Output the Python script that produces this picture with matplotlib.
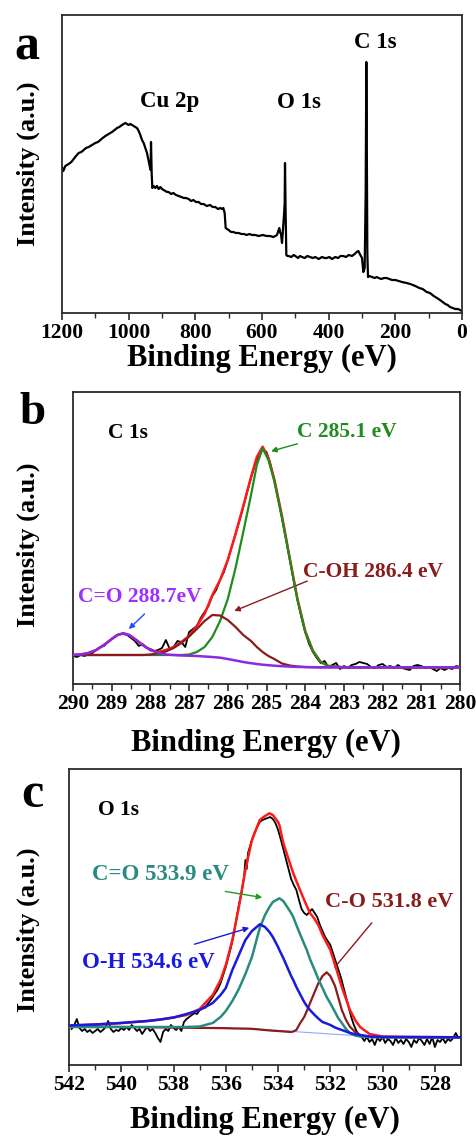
import matplotlib
matplotlib.use("Agg")
import matplotlib.pyplot as plt

plt.rcParams['font.family'] = ['Liberation Serif', 'DejaVu Serif']
plt.rcParams['font.weight'] = 'bold'

# ---------------- Panel a: survey ----------------
survey_be = [1200, 1196, 1190, 1180, 1172, 1165, 1158, 1150, 1142, 1135, 1128, 1120, 1110, 1100, 1092,
             1085, 1078, 1070, 1060, 1050, 1042, 1035, 1028, 1020, 1015, 1010, 1005, 1000, 995, 990,
             985, 980, 975, 970, 965, 960, 955, 950, 945, 940, 937, 934, 933, 931, 929, 925,
             920, 915, 910, 905, 900, 895, 890, 885, 880, 873, 866, 858, 850, 842, 835, 828,
             820, 813, 806, 798, 790, 783, 775, 766, 756, 748, 740, 732, 725, 720, 716, 712,
             709, 705, 700, 693, 686, 678, 670, 662, 654, 646, 638, 630, 620, 610, 598, 586,
             576, 566, 560, 555, 551, 548, 545, 543, 540, 537, 534, 532, 531, 530, 529, 527,
             524, 520, 512, 505, 500, 492, 486, 480, 472, 464, 456, 448, 440, 430, 420, 412,
             406, 398, 390, 380, 372, 364, 356, 348, 340, 330, 322, 316, 311, 305, 300, 296,
             292, 289, 287, 286, 285, 284, 282, 278, 270, 262, 256, 250, 242, 234, 226, 218,
             210, 200, 190, 180, 166, 155, 140, 128, 118, 106, 96, 85, 75, 66, 58, 50,
             43, 36, 28, 20, 12, 6, 0]
survey_int = [146, 142, 147, 149, 151, 154, 157, 160, 161, 163, 165, 166, 168, 170, 171,
              173, 175, 177, 179, 181, 183, 185, 186, 188, 189, 190, 189, 188, 189, 188,
              187, 186, 185, 182, 178, 173, 170, 165, 160, 152, 147, 143, 171, 140, 125, 127,
              125, 127, 124, 126, 124, 123, 122, 121, 121, 119, 120, 118, 117, 116, 115, 115,
              114, 112, 113, 111, 111, 109, 109, 107, 108, 106, 106, 104, 105, 104, 105, 100,
              85, 84, 83, 81, 81, 80, 80, 79, 79, 78, 79, 78, 78, 77, 78, 77,
              77, 76, 77, 78, 82, 85, 80, 79, 70, 84, 98, 110, 150, 120, 98, 58,
              57, 57, 56, 58, 57, 55, 57, 56, 55, 57, 56, 55, 56, 54, 56, 55,
              55, 56, 54, 56, 55, 57, 57, 56, 58, 57, 59, 61, 62, 58, 55, 41,
              45, 120, 251, 200, 130, 60, 36, 37, 36, 35, 36, 35, 34, 35, 35, 34,
              33, 33, 32, 31, 30, 29, 27, 25, 24, 21, 20, 17, 15, 13, 11, 9,
              8, 6, 5, 4, 4, 3, 2]
survey_ticks = [1200, 1000, 800, 600, 400, 200, 0]
survey_peaks = ["Cu 2p", "O 1s", "C 1s"]
survey_peak_pos = [(876, 211), (490, 211), (261, 270)]

# ---------------- Panel b: C 1s ----------------
c1s_be = [290.0, 289.9, 289.8, 289.7, 289.6, 289.5, 289.4, 289.3, 289.2, 289.1, 289.0, 288.9,
          288.8, 288.7, 288.6, 288.5, 288.4, 288.3, 288.2, 288.1, 288.0, 287.9, 287.8, 287.7,
          287.6, 287.5, 287.4, 287.3, 287.2, 287.1, 287.0, 286.9, 286.8, 286.7, 286.6, 286.5,
          286.4, 286.3, 286.2, 286.1, 286.0, 285.9, 285.8, 285.7, 285.6, 285.5, 285.4, 285.3,
          285.2, 285.1, 285.0, 284.9, 284.8, 284.7, 284.6, 284.5, 284.4, 284.3, 284.2, 284.1,
          284.0, 283.9, 283.8, 283.7, 283.6, 283.5, 283.4, 283.3, 283.2, 283.1, 283.0, 282.9,
          282.8, 282.7, 282.6, 282.5, 282.4, 282.3, 282.2, 282.1, 282.0, 281.9, 281.8, 281.7,
          281.6, 281.5, 281.4, 281.3, 281.2, 281.1, 281.0, 280.9, 280.8, 280.7, 280.6, 280.5,
          280.4, 280.3, 280.2, 280.1, 280.0]
c1s_raw = [28, 27, 29, 28, 30, 31, 34, 37, 38, 42, 45, 48,
           50, 50, 49, 46, 43, 38, 40, 36, 35, 33, 34, 36,
           44, 35, 37, 43, 42, 37, 52, 55, 58, 66, 72, 78,
           88, 94, 104, 112, 124, 137, 150, 163, 177, 192, 206, 219,
           229, 235, 232, 220, 204, 186, 166, 146, 125, 104, 85, 67,
           52, 40, 32, 26, 21, 23, 17, 19, 21, 15, 18, 16,
           19, 20, 22, 21, 20, 17, 16, 19, 20, 17, 18, 16,
           19, 16, 15, 14, 18, 19, 18, 16, 17, 15, 13, 16,
           14, 16, 15, 18, 17]

fit_b_be = [290.0, 289.8, 289.6, 289.4, 289.2, 289.0, 288.85, 288.7, 288.55, 288.4, 288.2, 288.0,
            287.8, 287.6, 287.4, 287.2, 287.0, 286.8, 286.6, 286.4, 286.2, 286.0, 285.8, 285.6,
            285.4, 285.25, 285.1, 284.95, 284.8, 284.6, 284.4, 284.2, 284.0, 283.8, 283.6, 283.4,
            283.0, 282.0, 281.0, 280.0]
fit_b_envelope = [29, 29.5, 31, 34, 39, 45, 49, 50.7, 49, 45, 39, 34,
                  32, 34, 37, 42, 48, 58, 70, 89, 104, 124, 150, 178,
                  207, 227, 237.3, 226, 205, 168, 126, 85, 53, 33, 22, 18,
                  16.7, 16.7, 16.7, 16.7]
fit_b_c = [29, 29, 29, 29, 29, 29, 29, 29, 29, 29, 29, 29,
           29, 29, 29, 29, 29.5, 32, 37, 47, 63, 85, 116, 152,
           189, 219, 235.7, 224, 203, 166, 125, 84, 52, 33, 22, 18,
           16.7, 16.7, 16.7, 16.7]
fit_b_coh = [29, 29, 29, 29, 29, 29, 29, 29, 29, 29, 29, 29.5,
             30.5, 32.5, 36, 41, 47.5, 55, 63, 69, 68.5, 64, 57, 49,
             43, 37, 32, 28, 25, 20.5, 18.5, 17.5, 17, 16.8, 16.7, 16.7,
             16.7, 16.7, 16.7, 16.7]
fit_b_co = [29, 29.5, 31, 34, 39, 45, 49, 50.7, 49, 45, 39, 34,
            31, 29.5, 29, 28.5, 28.3, 28, 27.5, 27, 26.3, 25, 23.5, 22,
            20.8, 20, 19.3, 18.8, 18.3, 17.8, 17.4, 17.1, 16.9, 16.8, 16.7, 16.7,
            16.7, 16.7, 16.7, 16.7]

# ---------------- Panel c: O 1s ----------------
o1s_be = [541.9, 541.8, 541.7, 541.6, 541.5, 541.4, 541.3, 541.2, 541.1, 541.0, 540.9, 540.8,
          540.7, 540.6, 540.5, 540.4, 540.3, 540.2, 540.1, 540.0, 539.9, 539.8, 539.7, 539.6,
          539.5, 539.4, 539.3, 539.2, 539.1, 539.0, 538.9, 538.8, 538.7, 538.6, 538.5, 538.4,
          538.3, 538.2, 538.1, 538.0, 537.9, 537.8, 537.7, 537.6, 537.5, 537.4, 537.3, 537.2,
          537.1, 537.0, 536.9, 536.8, 536.7, 536.6, 536.5, 536.4, 536.3, 536.2, 536.1, 536.0,
          535.9, 535.8, 535.7, 535.6, 535.5, 535.4, 535.3, 535.25, 535.2, 535.15, 535.0, 534.9,
          534.8, 534.7, 534.6, 534.5, 534.4, 534.3, 534.2, 534.1, 534.0, 533.9, 533.8, 533.7,
          533.6, 533.5, 533.4, 533.3, 533.2, 533.1, 533.0, 532.9, 532.8, 532.7, 532.6, 532.5,
          532.4, 532.3, 532.2, 532.1, 532.0, 531.9, 531.8, 531.7, 531.6, 531.5, 531.4, 531.3,
          531.2, 531.1, 531.0, 530.9, 530.8, 530.7, 530.6, 530.5, 530.4, 530.3, 530.2, 530.1,
          530.0, 529.9, 529.8, 529.7, 529.6, 529.5, 529.4, 529.3, 529.2, 529.1, 529.0, 528.9,
          528.8, 528.7, 528.6, 528.5, 528.4, 528.3, 528.2, 528.1, 528.0, 527.9, 527.8, 527.7,
          527.6, 527.5, 527.4, 527.3, 527.2, 527.1, 527.0]
o1s_raw = [36, 40, 46, 37, 34, 36, 33, 35, 32, 34, 36, 33,
           35, 38, 44, 36, 33, 35, 34, 37, 35, 38, 35, 40,
           37, 34, 36, 31, 35, 38, 34, 36, 32, 27, 23, 33,
           36, 34, 40, 37, 35, 38, 34, 43, 46, 48, 50, 52,
           51, 55, 58, 57, 61, 64, 68, 72, 76, 82, 90, 98,
           108, 118, 130, 145, 160, 172, 188, 205, 196, 212, 225, 232,
           238, 243, 245, 246, 247, 248, 246, 242, 235, 226, 216, 206,
           196, 186, 180, 175, 165, 156, 152, 150, 153, 156, 152, 148,
           140, 134, 128, 124, 120, 112, 104, 96, 88, 78, 68, 58,
           48, 40, 34, 30, 28, 24, 28, 23, 26, 20, 27, 24,
           28, 22, 26, 24, 20, 27, 22, 25, 21, 26, 23, 18,
           25, 22, 27, 24, 20, 26, 21, 28, 18, 25, 23, 27,
           22, 26, 24, 27, 32, 27, 28]

fit_c_be = [542.0, 541.0, 540.0, 539.0, 538.5, 538.0, 537.5, 537.0, 536.5, 536.2, 536.0, 535.75,
            535.5, 535.25, 535.0, 534.7, 534.5, 534.33, 534.2, 534.0, 533.95, 533.8, 533.7, 533.5,
            533.42, 533.3, 533.16, 533.0, 532.9, 532.78, 532.6, 532.46, 532.3, 532.14, 532.0, 531.82,
            531.7, 531.56, 531.4, 531.25, 531.05, 530.86, 530.5, 530.0, 529.0, 527.0]
fit_c_envelope = [39.5, 40.5, 42, 44, 45.5, 47.5, 50, 56, 70, 85, 100, 125,
                  158, 195, 225, 245, 249, 251.7, 250, 243, 240, 222, 214, 198,
                  192, 184, 175, 165, 159, 152, 146, 140, 130, 122, 115, 100,
                  90, 78, 66, 55, 45, 38, 31, 28.5, 28, 27.7]
fit_c_oh = [39.5, 40.5, 42, 44, 45.5, 47.5, 51, 55, 62, 70, 77, 95,
            110, 125, 134, 140.7, 138, 133, 128, 118, 115, 107, 101, 89,
            85, 78, 71, 63, 59, 55, 50, 46.5, 43, 41.5, 40, 37.5,
            36.3, 35, 33.5, 32, 30.8, 30, 28.5, 28, 28, 27.7]
fit_c_co2 = [38, 38, 38, 38, 38, 38, 38, 38.5, 42, 48, 54, 64,
             76, 91, 108, 137, 150, 158, 163, 166, 166.7, 164, 160, 152,
             148, 140, 131, 121, 115, 106, 95, 86, 77, 68, 61.7, 53,
             47, 42, 36, 32, 29.5, 28.5, 28, 27.7, 27.7, 27.7]
fit_c_co = [38.5, 38.3, 38, 37.8, 37.6, 37.5, 37.3, 37.1, 37, 36.9, 36.8, 36.6,
            36.5, 36.4, 36.2, 35.5, 35, 34.6, 34.3, 34, 33.9, 33.6, 33.4, 33,
            33.5, 35, 41.7, 48, 54, 61.7, 73, 81.7, 89, 92.7, 89, 79,
            68, 55, 45, 38.3, 33, 30, 28, 27.7, 27.7, 27.7]
bg_c_be = [536.0, 534.0, 532.0, 530.5, 527.0]
bg_c = [37, 34.5, 31, 28.5, 27.7]

# ---------------- figure ----------------
W, H = 477, 1136
fig = plt.figure(figsize=(W / 100, H / 100), dpi=100)


def axes_px(l, t, r, b):
    return fig.add_axes([l / W, 1 - b / H, (r - l) / W, (b - t) / H])


def ftext(x, y, s, **kw):
    fig.text(x / W, 1 - y / H, s, **kw)


spine_col = '#2b2b2b'


def style(ax, tick_size):
    for sp in ax.spines.values():
        sp.set_linewidth(1.3)
        sp.set_color(spine_col)
    ax.set_yticks([])
    ax.tick_params(axis='x', which='major', direction='out', length=5, width=1.2,
                   labelsize=tick_size, pad=2, color=spine_col)
    ax.tick_params(axis='x', which='minor', direction='out', length=3.5, width=1.0,
                   color=spine_col)
    for lab in ax.get_xticklabels():
        lab.set_fontweight('bold')


# Panel a
axa = axes_px(62, 15, 462, 313)
axa.plot(survey_be, survey_int, color='black', lw=1.6)
axa.set_xlim(1200, 0)
axa.set_ylim(0, 298)
axa.set_xticks(survey_ticks)
axa.set_xticks([1100, 900, 700, 500, 300, 100], minor=True)
axa.set_xticklabels([str(t) for t in survey_ticks])
style(axa, 15.5)
for name, (x, y) in zip(survey_peaks, survey_peak_pos):
    axa.text(x, y, name, ha='center', va='center', fontsize=16.5, fontweight='bold')

# Panel b
axb = axes_px(73, 392, 460, 684)
axb.plot(c1s_be, c1s_raw, color='black', lw=1.3, zorder=2)
axb.plot(fit_b_be, fit_b_envelope, color='#ff1a1a', lw=1.8, zorder=3)
axb.plot(fit_b_be, fit_b_c, color='#1e8c1e', lw=1.6, zorder=4)
axb.plot(fit_b_be, fit_b_coh, color='#8b1c1c', lw=1.6, zorder=5)
axb.plot(fit_b_be, fit_b_co, color='#8a2be2', lw=1.8, zorder=6)
axb.set_xlim(290, 280)
axb.set_ylim(0, 292)
btick = list(range(290, 279, -1))
axb.set_xticks(btick)
axb.set_xticks([289.5 - i for i in range(10)], minor=True)
axb.set_xticklabels([str(t) for t in btick])
style(axb, 15.5)
axb.text(289.1, 251, 'C 1s', ha='left', va='center', fontsize=15.5, fontweight='bold')
axb.text(284.21, 252, 'C 285.1 eV', ha='left', va='center', fontsize=15.5,
         fontweight='bold', color='#1e8c1e')
axb.text(284.06, 112, 'C-OH 286.4 eV', ha='left', va='center', fontsize=15.5,
         fontweight='bold', color='#8b1c1c')
axb.text(289.87, 87, 'C=O 288.7eV', ha='left', va='center', fontsize=15.5,
         fontweight='bold', color='#9b30ff')
axb.annotate('', xy=(284.95, 232), xytext=(284.13, 241),
             arrowprops=dict(arrowstyle='-|>', color='#1e8c1e', lw=1.0, mutation_scale=8))
axb.annotate('', xy=(285.9, 72), xytext=(283.88, 104),
             arrowprops=dict(arrowstyle='-|>', color='#8b1c1c', lw=1.0, mutation_scale=8))
axb.annotate('', xy=(288.61, 53), xytext=(288.1, 72),
             arrowprops=dict(arrowstyle='-|>', color='#1f4fff', lw=1.0, mutation_scale=8))

# Panel c
axc = axes_px(69, 769, 461, 1065)
axc.plot(o1s_be, o1s_raw, color='black', lw=1.3, zorder=2)
axc.plot(fit_c_be, fit_c_envelope, color='#ff1a1a', lw=1.8, zorder=3)
axc.plot(bg_c_be, bg_c, color='#8fa8ff', lw=0.8, zorder=3)
axc.plot(fit_c_be, fit_c_co, color='#8b1c1c', lw=1.6, zorder=4)
axc.plot(fit_c_be, fit_c_co2, color='#2a8a80', lw=1.8, zorder=5)
axc.plot(fit_c_be, fit_c_oh, color='#1a1adf', lw=1.8, zorder=6)
axc.set_xlim(542, 527)
axc.set_ylim(0, 296)
ctick = list(range(542, 527, -2))
axc.set_xticks(ctick)
axc.set_xticks(list(range(541, 527, -2)), minor=True)
axc.set_xticklabels([str(t) for t in ctick])
style(axc, 15.5)
axc.text(540.89, 255, 'O 1s', ha='left', va='center', fontsize=15.5, fontweight='bold')
axc.text(541.12, 190, 'C=O 533.9 eV', ha='left', va='center', fontsize=16.5,
         fontweight='bold', color='#2a8a80')
axc.text(541.51, 102, 'O-H 534.6 eV', ha='left', va='center', fontsize=16.5,
         fontweight='bold', color='#1a1adf')
axc.text(532.2, 163, 'C-O 531.8 eV', ha='left', va='center', fontsize=16,
         fontweight='bold', color='#8b1c1c')
axc.annotate('', xy=(534.5, 167), xytext=(536.12, 174),
             arrowprops=dict(arrowstyle='-|>', color='#1e9c1e', lw=1.0, mutation_scale=8))
axc.annotate('', xy=(535.0, 138), xytext=(537.3, 120),
             arrowprops=dict(arrowstyle='-|>', color='#1a1adf', lw=1.0, mutation_scale=8))
axc.plot([530.42, 531.82], [142, 98], color='#8b1c1c', lw=1.0)

# axis labels & panel letters
for yc in [164, 545, 930]:
    ftext(28, yc, 'Intensity (a.u.)', rotation=90, ha='center', va='center',
          fontsize=19, fontweight='bold')
ftext(262, 358, 'Binding Energy (eV)', ha='center', va='center', fontsize=22, fontweight='bold')
ftext(266, 743, 'Binding Energy (eV)', ha='center', va='center', fontsize=22, fontweight='bold')
ftext(265, 1120, 'Binding Energy (eV)', ha='center', va='center', fontsize=22, fontweight='bold')
ftext(27, 48, 'a', ha='center', va='center', fontsize=36, fontweight='bold')
ftext(33, 413, 'b', ha='center', va='center', fontsize=34, fontweight='bold')
ftext(32, 795, 'c', ha='center', va='center', fontsize=36, fontweight='bold')

fig.savefig('out.png', dpi=100, facecolor='white')
